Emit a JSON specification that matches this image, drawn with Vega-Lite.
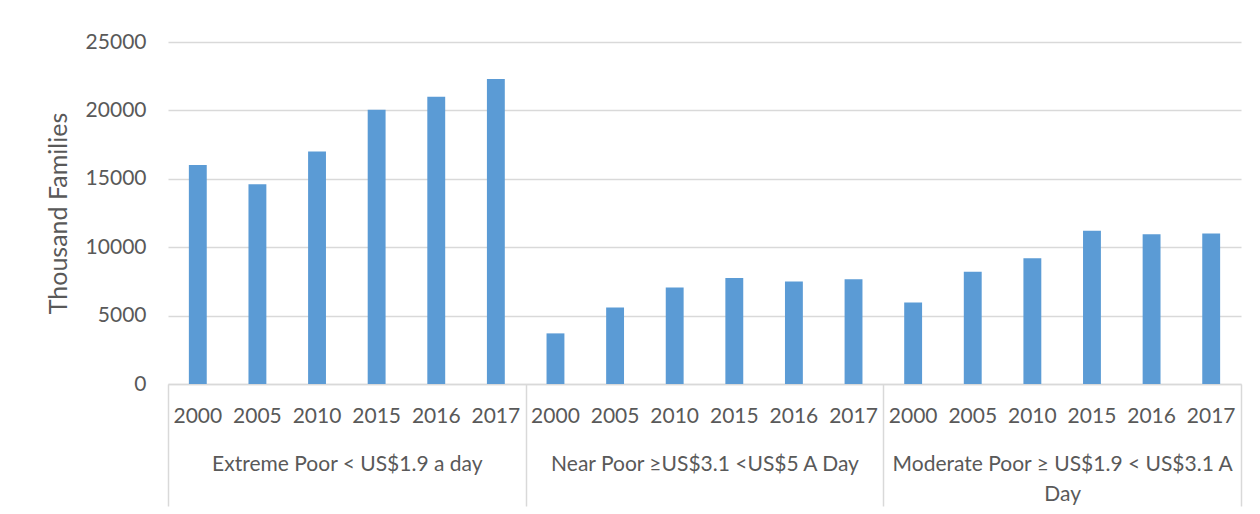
{
  "$schema": "https://vega.github.io/schema/vega-lite/v6.json",
  "width": 1073,
  "height": 342,
  "autosize": {"type": "none"},
  "padding": {"left": 168, "top": 42, "right": 19, "bottom": 130},
  "background": "white",
  "config": {"view": {"stroke": null}, "font": "Lato"},
  "datasets": {
    "bars": [
      {"key": "Extreme 2000", "group": "Extreme Poor < US$1.9 a day", "year": "2000", "value": 16000},
      {"key": "Extreme 2005", "group": "Extreme Poor < US$1.9 a day", "year": "2005", "value": 14600},
      {"key": "Extreme 2010", "group": "Extreme Poor < US$1.9 a day", "year": "2010", "value": 17000},
      {"key": "Extreme 2015", "group": "Extreme Poor < US$1.9 a day", "year": "2015", "value": 20050},
      {"key": "Extreme 2016", "group": "Extreme Poor < US$1.9 a day", "year": "2016", "value": 21000},
      {"key": "Extreme 2017", "group": "Extreme Poor < US$1.9 a day", "year": "2017", "value": 22300},
      {"key": "Near 2000", "group": "Near Poor ≥US$3.1 <US$5 A Day", "year": "2000", "value": 3700},
      {"key": "Near 2005", "group": "Near Poor ≥US$3.1 <US$5 A Day", "year": "2005", "value": 5600},
      {"key": "Near 2010", "group": "Near Poor ≥US$3.1 <US$5 A Day", "year": "2010", "value": 7050},
      {"key": "Near 2015", "group": "Near Poor ≥US$3.1 <US$5 A Day", "year": "2015", "value": 7750},
      {"key": "Near 2016", "group": "Near Poor ≥US$3.1 <US$5 A Day", "year": "2016", "value": 7500},
      {"key": "Near 2017", "group": "Near Poor ≥US$3.1 <US$5 A Day", "year": "2017", "value": 7650},
      {"key": "Moderate 2000", "group": "Moderate Poor ≥ US$1.9 < US$3.1 A Day", "year": "2000", "value": 5950},
      {"key": "Moderate 2005", "group": "Moderate Poor ≥ US$1.9 < US$3.1 A Day", "year": "2005", "value": 8200},
      {"key": "Moderate 2010", "group": "Moderate Poor ≥ US$1.9 < US$3.1 A Day", "year": "2010", "value": 9200},
      {"key": "Moderate 2015", "group": "Moderate Poor ≥ US$1.9 < US$3.1 A Day", "year": "2015", "value": 11200},
      {"key": "Moderate 2016", "group": "Moderate Poor ≥ US$1.9 < US$3.1 A Day", "year": "2016", "value": 10950},
      {"key": "Moderate 2017", "group": "Moderate Poor ≥ US$1.9 < US$3.1 A Day", "year": "2017", "value": 11000}
    ],
    "groups": [
      {"group": "Extreme Poor < US$1.9 a day"},
      {"group": "Near Poor ≥US$3.1 <US$5 A Day"},
      {"group": "Moderate Poor ≥ US$1.9 < US$3.1 A Day"}
    ]
  },
  "layer": [
    {
      "data": {"name": "bars"},
      "mark": {"type": "bar", "color": "#5B9BD5"},
      "encoding": {
        "x": {
          "field": "key",
          "type": "nominal",
          "sort": null,
          "scale": {"type": "band", "paddingInner": 0.7, "paddingOuter": 0.35},
          "axis": {
            "orient": "bottom",
            "title": null,
            "labelExpr": "slice(datum.label, -4)",
            "labelAngle": 0,
            "ticks": false,
            "grid": false,
            "domain": true,
            "domainColor": "#D9D9D9",
            "domainWidth": 1.5,
            "labelFont": "Lato",
            "labelFontSize": 21,
            "labelColor": "#595959",
            "labelPadding": 21,
            "labelLimit": 0,
            "labelOverlap": false,
            "labelBound": false,
            "labelFlush": false
          }
        },
        "y": {
          "field": "value",
          "type": "quantitative",
          "scale": {"domain": [0, 25000], "nice": false},
          "axis": {
            "values": [0, 5000, 10000, 15000, 20000, 25000],
            "format": "d",
            "grid": true,
            "gridColor": "#D9D9D9",
            "gridWidth": 1.5,
            "domain": false,
            "ticks": false,
            "labelFont": "Lato",
            "labelFontSize": 21,
            "labelColor": "#595959",
            "labelPadding": 22,
            "labelLimit": 0,
            "title": "Thousand Families",
            "titleFont": "Lato",
            "titleFontSize": 25,
            "titleFontWeight": "normal",
            "titleColor": "#595959",
            "titlePadding": 14
          }
        }
      }
    },
    {
      "data": {"name": "groups"},
      "mark": {"type": "point", "opacity": 0},
      "encoding": {
        "x": {
          "field": "group",
          "type": "nominal",
          "sort": null,
          "scale": {"type": "band", "paddingInner": 0, "paddingOuter": 0},
          "axis": {
            "orient": "bottom",
            "title": null,
            "labelAngle": 0,
            "grid": false,
            "domain": false,
            "ticks": true,
            "tickBand": "extent",
            "tickSize": 122,
            "tickColor": "#D9D9D9",
            "tickWidth": 1.5,
            "labelFont": "Lato",
            "labelFontSize": 21,
            "labelColor": "#595959",
            "labelPadding": -53,
            "labelLineHeight": 30,
            "labelLimit": 0,
            "labelOverlap": false,
            "labelBound": false,
            "labelFlush": false,
            "labelExpr": "slice(datum.label, 0, 8) == 'Moderate' ? ['Moderate Poor ≥ US$1.9 < US$3.1  A', 'Day'] : datum.label"
          }
        }
      }
    }
  ],
  "resolve": {"scale": {"x": "independent"}, "axis": {"x": "independent"}}
}
